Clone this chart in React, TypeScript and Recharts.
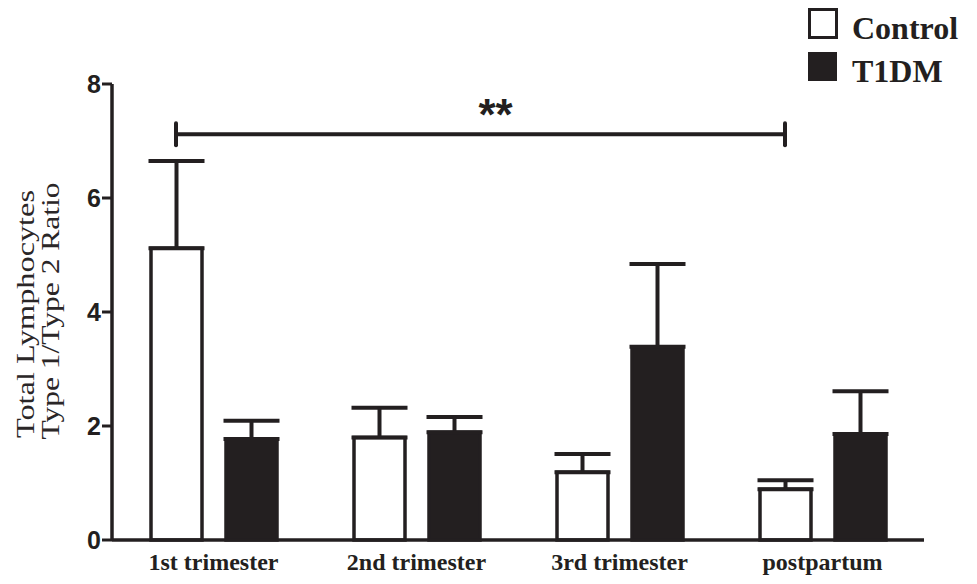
import React from 'react';
import { BarChart, Bar, XAxis, YAxis, ErrorBar, ReferenceLine } from 'recharts';

const categories = ['1st trimester', '2nd trimester', '3rd trimester', 'postpartum'];
const controlMean = [5.12, 1.8, 1.19, 0.89];
const controlUpper = [6.65, 2.32, 1.51, 1.05];
const t1dmMean = [1.77, 1.89, 3.39, 1.86];
const t1dmUpper = [2.09, 2.16, 4.84, 2.61];
const yTicks = [0, 2, 4, 6, 8];
const seriesNames = ['Control', 'T1DM'];
const sigPair = [0, 3];
const sigLevel = 7.12;
const sigLabel = '**';

const W = 977;
const H = 584;
const margin = { top: 84, right: 53, bottom: 14, left: 52 };
const yAxisWidth = 60;
const xAxisHeight = 30;
const barSize = 51;
const barGap = 24;
const INK = '#231f20';

const data = categories.map((c, i) => ({
  name: c,
  control: controlMean[i],
  t1dm: t1dmMean[i],
  cErr: [0, +(controlUpper[i] - controlMean[i]).toFixed(3)],
  tErr: [0, +(t1dmUpper[i] - t1dmMean[i]).toFixed(3)],
}));

// shift from band centre to the centre of the Control bar, from the bar layout
const plotWidth = W - margin.left - margin.right - yAxisWidth;
const bandSize = plotWidth / categories.length;
const groupOffset = (bandSize - (2 * barSize + barGap)) / 2;
const controlShift = groupOffset + barSize / 2 - bandSize / 2;

const XTick = (props: any) => {
  const { x, y, payload } = props;
  return (
    <text
      x={x}
      y={y + 30}
      textAnchor="middle"
      fill={INK}
      fontFamily="'Liberation Serif', 'Times New Roman', serif"
      fontWeight="bold"
      fontSize={24}
    >
      {payload.value}
    </text>
  );
};

const YLabel = (props: any) => {
  const vb = props.viewBox || { x: 52, y: 84, width: 60, height: 456 };
  const cy = vb.y + vb.height / 2;
  const fam = "'Liberation Serif', 'Times New Roman', serif";
  return (
    <g>
      <text
        x={34}
        y={cy + 2}
        transform={`rotate(-90 34 ${cy + 2})`}
        textAnchor="middle"
        fontFamily={fam}
        fontSize={25}
        fill="#2a2627"
        textLength={248}
        lengthAdjust="spacingAndGlyphs"
      >
        Total Lymphocytes
      </text>
      <text
        x={59}
        y={cy - 1}
        transform={`rotate(-90 59 ${cy - 1})`}
        textAnchor="middle"
        fontFamily={fam}
        fontSize={25}
        fill="#2a2627"
        textLength={257}
        lengthAdjust="spacingAndGlyphs"
      >
        Type 1/Type 2 Ratio
      </text>
    </g>
  );
};

const SigBracket = (props: any) => {
  const { x1, y1, x2 } = props;
  if (x1 == null || x2 == null) return <g />;
  const a = x1 + controlShift;
  const b = x2 + controlShift;
  const y = y1;
  const cap = 11;
  return (
    <g>
      <line x1={a} y1={y} x2={b} y2={y} stroke={INK} strokeWidth={4} />
      <line x1={a} y1={y - cap} x2={a} y2={y + cap} stroke={INK} strokeWidth={4} strokeLinecap="round" />
      <line x1={b} y1={y - cap} x2={b} y2={y + cap} stroke={INK} strokeWidth={4} strokeLinecap="round" />
      <text
        x={(a + b) / 2 + 15}
        y={y - 4}
        textAnchor="middle"
        fontFamily="'Liberation Sans', Arial, sans-serif"
        fontWeight="bold"
        fontSize={44}
        fill={INK}
      >
        {sigLabel}
      </text>
    </g>
  );
};

export default function App() {
  return (
    <div style={{ position: 'absolute', left: 0, top: 0, width: W, height: H, background: '#fff' }}>
      <BarChart width={W} height={H} data={data} margin={margin} barGap={barGap}>
        <XAxis
          dataKey="name"
          height={xAxisHeight}
          tickLine={false}
          tickSize={0}
          tickMargin={0}
          axisLine={{ stroke: INK, strokeWidth: 3.5 }}
          tick={<XTick />}
          interval={0}
        />
        <YAxis
          width={yAxisWidth}
          domain={[0, 8]}
          ticks={yTicks}
          tickSize={10}
          tickMargin={1}
          axisLine={{ stroke: INK, strokeWidth: 3.5 }}
          tickLine={{ stroke: INK, strokeWidth: 3 }}
          tick={{ fontSize: 25, fontWeight: 'bold', fill: INK, fontFamily: "'Liberation Sans', Arial, sans-serif" }}
          label={<YLabel />}
        />
        <Bar dataKey="control" name={seriesNames[0]} barSize={barSize} fill="#ffffff" stroke={INK} strokeWidth={3.5} isAnimationActive={false}>
          <ErrorBar dataKey="cErr" width={28} strokeWidth={4} stroke={INK} direction="y" />
        </Bar>
        <Bar dataKey="t1dm" name={seriesNames[1]} barSize={barSize} fill={INK} stroke={INK} strokeWidth={3.5} isAnimationActive={false}>
          <ErrorBar dataKey="tErr" width={28} strokeWidth={4} stroke={INK} direction="y" />
        </Bar>
        <ReferenceLine
          segment={[
            { x: categories[sigPair[0]], y: sigLevel },
            { x: categories[sigPair[1]], y: sigLevel },
          ]}
          stroke={INK}
          strokeWidth={4}
          shape={<SigBracket />}
        />
      </BarChart>
      <svg width={W} height={H} style={{ position: 'absolute', left: 0, top: 0, pointerEvents: 'none' }}>
        <rect x={809.5} y={9.5} width={27} height={28} fill="#fff" stroke={INK} strokeWidth={3} />
        <text x={852} y={39} fontFamily="'Liberation Serif', 'Times New Roman', serif" fontWeight="bold" fontSize={32} fill={INK}>
          {seriesNames[0]}
        </text>
        <rect x={808} y={52} width={29} height={29} fill={INK} />
        <text x={852} y={82} fontFamily="'Liberation Serif', 'Times New Roman', serif" fontWeight="bold" fontSize={32} fill={INK}>
          {seriesNames[1]}
        </text>
      </svg>
    </div>
  );
}
